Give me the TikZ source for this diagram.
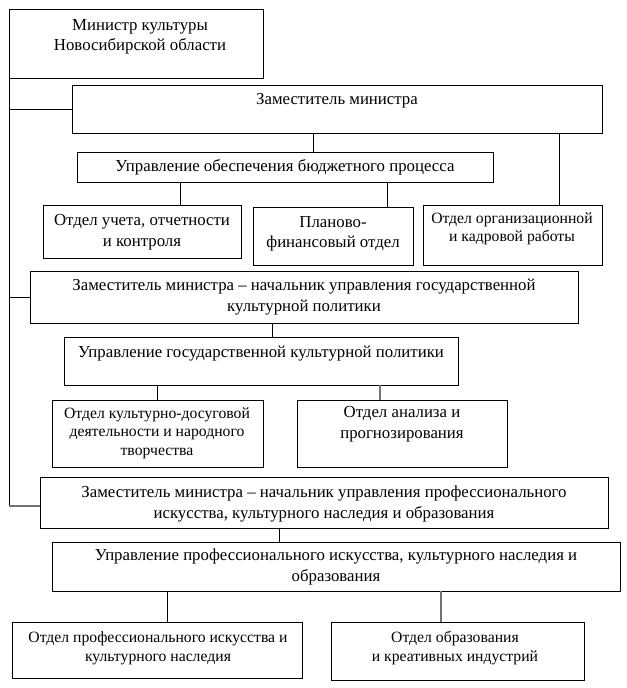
\documentclass[tikz,border=0pt]{standalone}
\usepackage{fontspec}
\setmainfont{Liberation Serif}
\begin{document}
\begin{tikzpicture}[x=1bp,y=-1bp,
  box/.style={draw=black,line width=0.9bp,inner sep=0pt,outer sep=0pt},
  txt/.style={align=center,inner sep=0pt,font=\fontsize{16.8bp}{20.5bp}\selectfont},
  stxt/.style={align=center,inner sep=0pt,font=\fontsize{15.7bp}{18.5bp}\selectfont},
  conn/.style={draw=black,line width=0.9bp},
  gconn/.style={draw=black!55,line width=1.1bp}]
\useasboundingbox (0,0) rectangle (627,688);
\newcommand{\bx}[5]{\node[box,minimum width={(#4-#2)*1bp},minimum height={(#5-#3)*1bp}] (#1) at ({(#2+#4)/2},{(#3+#5)/2}) {};}
\bx{min}{9}{9}{263}{78}
\bx{dep1}{72}{85}{602}{133}
\bx{bud}{77}{152}{493}{182}
\bx{uch}{43}{205}{241}{258}
\bx{plan}{253}{207}{413}{265}
\bx{org}{423}{205}{602}{265}
\bx{dep2}{30}{271}{578}{323}
\bx{gos}{64}{337}{458}{385}
\bx{kult}{52}{400}{263}{467}
\bx{anal}{297}{400}{507}{467}
\bx{dep3}{40}{477}{608}{528}
\bx{prof}{52}{542}{620}{591}
\bx{oprof}{12}{622}{302}{678}
\bx{obr}{331}{622}{584}{680}
\node[txt] (minT) at (140,37) {Министр культуры\\Новосибирской области};
\node[txt] (dep1T) at (337,101) {Заместитель министра};
\node[txt] (budT) at (285,167) {Управление обеспечения бюджетного процесса};
\node[txt] (uchT) at (142,232) {Отдел учета, отчетности\\и контроля};
\node[txt] (planT) at (333,234) {Планово-\\финансовый отдел};
\node[stxt] (orgT) at (512,229) {Отдел организационной\\и кадровой работы};
\node[txt] (dep2T) at (304,297) {Заместитель министра -- начальник управления государственной\\культурной политики};
\node[txt] (gosT) at (261,354) {Управление государственной культурной политики};
\node[stxt] (kultT) at (157,433) {Отдел культурно-досуговой\\деятельности и народного\\творчества};
\node[txt] (analT) at (402,424) {Отдел анализа и\\прогнозирования};
\node[txt] (dep3T) at (324,504) {Заместитель министра -- начальник управления профессионального\\искусства, культурного наследия и образования};
\node[txt] (profT) at (336,567) {Управление профессионального искусства, культурного наследия и\\образования};
\node[stxt] (oprofT) at (158,648) {Отдел профессионального искусства и\\культурного наследия};
\node[stxt] (obrT) at (455,648) {Отдел образования\\и креативных индустрий};
% helper x positions
\coordinate (xa) at (313,0);
\coordinate (xb) at (559,0);
\coordinate (xc) at (180,0);
\coordinate (xd) at (387,0);
\coordinate (xe) at (272,0);
\coordinate (xf) at (157,0);
\coordinate (xg) at (380,0);
\coordinate (xh) at (279,0);
\coordinate (xi) at (167,0);
\coordinate (xj) at (441,0);
\coordinate (spine) at (10,506);
% left spine
\draw[conn] (min.south west) -- (min.south west |- spine);
\draw[conn] (min.south west |- dep1.west) -- (dep1.west);
\draw[conn] (min.south west |- dep2.center) -- (dep2.west);
\draw[gconn] (min.south west |- spine) -- (dep3.west |- spine);
% tree links
\draw[conn] (xa |- dep1.south) -- (xa |- bud.north);
\draw[conn] (xb |- dep1.south) -- (xb |- org.north);
\draw[conn] (xc |- bud.south) -- (xc |- uch.north);
\draw[conn] (xd |- bud.south) -- (xd |- plan.north);
\draw[conn] (xe |- dep2.south) -- (xe |- gos.north);
\draw[conn] (xf |- gos.south) -- (xf |- kult.north);
\draw[gconn] (xg |- gos.south) -- (xg |- anal.north);
\draw[conn] (xh |- dep3.south) -- (xh |- prof.north);
\draw[conn] (xi |- prof.south) -- (xi |- oprof.north);
\draw[gconn] (xj |- prof.south) -- (xj |- obr.north);
\end{tikzpicture}
\end{document}
